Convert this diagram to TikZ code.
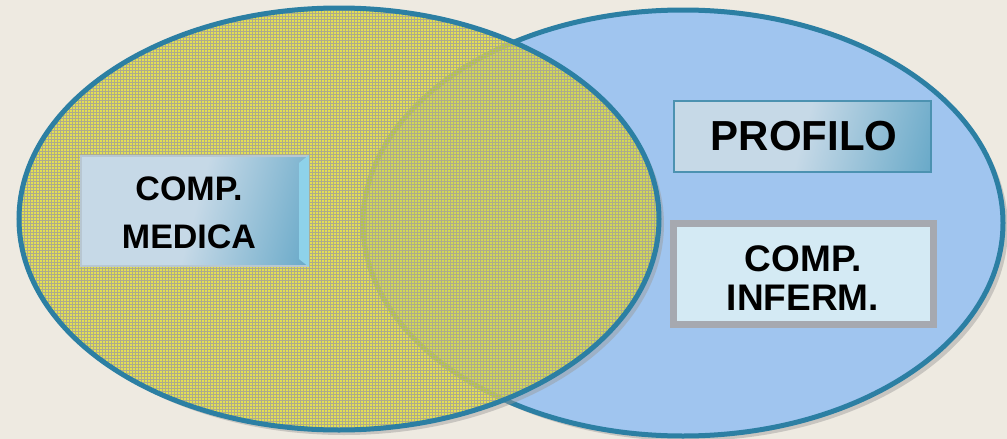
\documentclass[tikz,border=0pt]{standalone}
\usepackage{fontspec}
\setmainfont{Liberation Sans}
\usetikzlibrary{patterns}
\definecolor{bg}{HTML}{EEEAE1}
\definecolor{ringblue}{HTML}{2C7FA3}
\definecolor{fillblue}{HTML}{A0C5EF}
\definecolor{fillyellow}{HTML}{E2DE2A}
\definecolor{gridgray}{HTML}{ADAB8C}
\definecolor{lightbox}{HTML}{C6D9E7}
\definecolor{tealbox}{HTML}{2E8BB5}
\definecolor{bevelcyan}{HTML}{8ED2EA}
\definecolor{infbox}{HTML}{D4EAF4}
\definecolor{infborder}{HTML}{A6A9B0}
\definecolor{shadowgray}{HTML}{9A9A98}
\pgfdeclarehorizontalshading{boxshade}{100bp}{color(0bp)=(lightbox); color(50bp)=(lightbox); color(100bp)=(tealbox)}
\tikzset{
  ring/.style={draw=ringblue, line width=5pt},
  shadowfill/.style={fill=shadowgray, fill opacity=0.45},
  label/.style={font=\bfseries, align=center, text=black, inner sep=0pt},
  gradbox/.style={shading=boxshade, shading angle=-15, inner sep=0pt},
}
\begin{document}
\begin{tikzpicture}[x=1pt,y=-1pt]
\useasboundingbox (0,0) rectangle (1007,439);
\fill[bg] (0,0) rectangle (1007,439);
% right ellipse shadow and body
\fill[shadowfill] (688,228) ellipse [x radius=320pt, y radius=213pt];
\fill[fillblue] (683,223) ellipse [x radius=320pt, y radius=213pt];
\draw[ring] (683,223) ellipse [x radius=320pt, y radius=213pt];
% left ellipse shadow (outside only)
\begin{scope}[even odd rule]
  \clip (0,0) rectangle (1007,439) (339,219) ellipse [x radius=320pt, y radius=211pt];
  \fill[shadowfill] (344,224) ellipse [x radius=320pt, y radius=211pt];
\end{scope}
% left ellipse body
\fill[fillyellow, fill opacity=0.78] (339,219) ellipse [x radius=320pt, y radius=211pt];
\fill[pattern=grid, pattern color=gridgray] (339,219) ellipse [x radius=320pt, y radius=211pt];
\draw[ring] (339,219) ellipse [x radius=320pt, y radius=211pt];
% COMP. MEDICA box
\node[gradbox, draw=lightbox!80!gray, line width=2pt, minimum width=227pt, minimum height=110pt] (med) at (194.5,211) {};
\fill[bevelcyan] (med.north east) -- (med.south east) -- ([xshift=-10pt,yshift=8pt]med.south east) -- ([xshift=-10pt,yshift=-8pt]med.north east) -- cycle;
\node[label, font=\bfseries\fontsize{34}{48}\selectfont] (medtext) at (189,213) {COMP.\\MEDICA};
% PROFILO box
\node[gradbox, draw=ringblue!85, line width=2.5pt, minimum width=257pt, minimum height=71pt] (prof) at (802.5,136.5) {};
\node[label, font=\bfseries\fontsize{42}{48}\selectfont] (proftext) at (804,136) {PROFILO};
% COMP. INFERM. box
\node[fill=infbox, draw=infborder, line width=7pt, minimum width=260pt, minimum height=101pt, inner sep=0pt] (inf) at (803.5,274) {};
\node[label, font=\bfseries\fontsize{37}{39}\selectfont] (inftext) at (803,278) {COMP.\\INFERM.};
\end{tikzpicture}
\end{document}
